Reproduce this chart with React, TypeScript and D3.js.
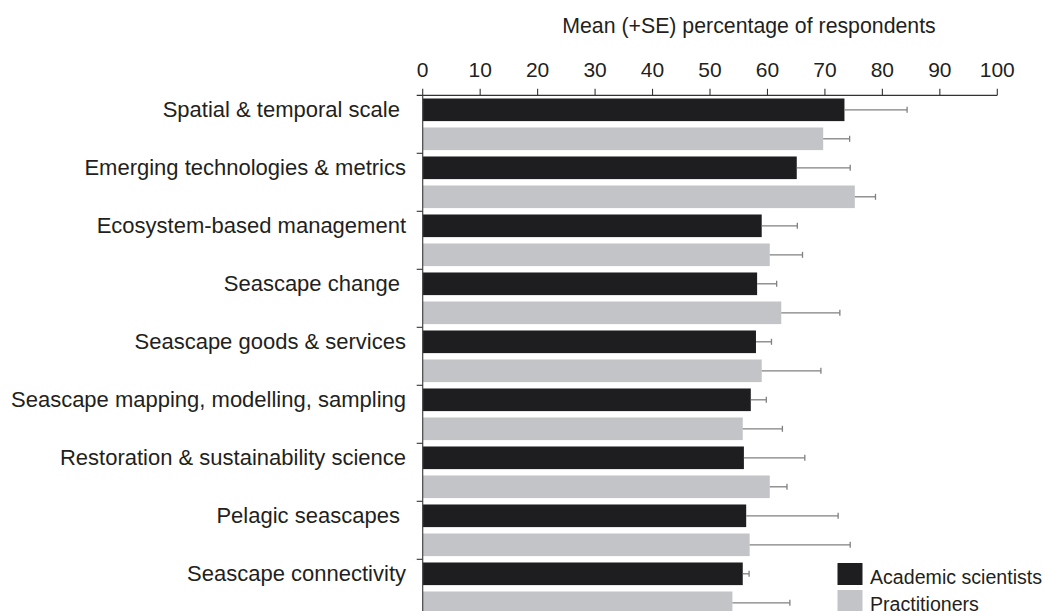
import React from "react";
import * as d3 from "d3";

// values
const categories = [
  "Spatial & temporal scale ",
  "Emerging technologies & metrics",
  "Ecosystem-based management",
  "Seascape change ",
  "Seascape goods & services",
  "Seascape mapping, modelling, sampling",
  "Restoration & sustainability science",
  "Pelagic seascapes ",
  "Seascape connectivity",
];
const academicMean = [73.4, 65.1, 59.0, 58.2, 58.0, 57.1, 55.9, 56.3, 55.7];
const academicSE = [10.9, 9.3, 6.2, 3.4, 2.7, 2.7, 10.6, 16.0, 1.1];
const practitionerMean = [69.7, 75.2, 60.4, 62.4, 59.0, 55.7, 60.4, 56.9, 53.9];
const practitionerSE = [4.6, 3.6, 5.7, 10.2, 10.3, 6.9, 3.0, 17.5, 10.0];
const seriesNames = ["Academic scientists", "Practitioners"];
const seriesColors = ["#1e1e21", "#c3c4c7"];
const xTicks = [0, 10, 20, 30, 40, 50, 60, 70, 80, 90, 100];

const W = 1045;
const H = 611;
const FONT = "'Liberation Sans', Arial, Helvetica, sans-serif";
const TXT = "#231f20";

export default function App() {
  if (typeof document !== "undefined") {
    document.body.style.margin = "0";
    document.body.style.overflow = "hidden";
  }

  const x = d3.scaleLinear().domain([0, 100]).range([422.7, 997.3]);
  const y0 = d3
    .scaleBand<string>()
    .domain(categories)
    .range([95.3, 95.3 + 58 * categories.length]);
  const y1 = d3
    .scaleBand<string>()
    .domain(seriesNames)
    .range([0, y0.bandwidth()])
    .paddingInner(0.22)
    .paddingOuter(0.11);

  const series = [
    { name: seriesNames[0], mean: academicMean, se: academicSE, color: seriesColors[0] },
    { name: seriesNames[1], mean: practitionerMean, se: practitionerSE, color: seriesColors[1] },
  ];

  const axisY = 95.3;
  const x0 = x(0);

  return (
    <svg width={W} height={H} style={{ display: "block", background: "#fff" }} fontFamily={FONT}>
      {/* title */}
      <text x={749} y={33} textAnchor="middle" fontSize={21.3} fill={TXT}>
        Mean (+SE) percentage of respondents
      </text>

      {/* top x axis */}
      <line x1={x0 - 6} x2={x(100)} y1={axisY} y2={axisY} stroke="#333" strokeWidth={1.2} />
      {xTicks.map((t) => (
        <g key={t}>
          <line x1={x(t)} x2={x(t)} y1={axisY} y2={axisY - 6.5} stroke="#333" strokeWidth={1.1} />
          <text x={x(t)} y={76.7} textAnchor="middle" fontSize={21} fill={TXT}>
            {t}
          </text>
        </g>
      ))}

      {/* bars */}
      {categories.map((c, i) => (
        <g key={c} transform={`translate(0,${y0(c)})`}>
          {series.map((s) => {
            const by = y1(s.name)!;
            const bh = y1.bandwidth();
            const cy = by + bh / 2;
            const xe = x(s.mean[i] + s.se[i]);
            return (
              <g key={s.name}>
                <rect x={x0} y={by} width={x(s.mean[i]) - x0} height={bh} fill={s.color} />
                <line x1={x(s.mean[i])} x2={xe} y1={cy} y2={cy} stroke="#808080" strokeWidth={1.3} />
                <line x1={xe} x2={xe} y1={cy - 3} y2={cy + 3} stroke="#808080" strokeWidth={1.3} />
              </g>
            );
          })}
          <text
            x={406}
            y={y1(seriesNames[0])! + y1.bandwidth() / 2}
            dy="0.35em"
            textAnchor="end"
            fontSize={22}
            fill={TXT}
            style={{ whiteSpace: "pre" }}
          >
            {c}
          </text>
        </g>
      ))}

      {/* y axis */}
      <line x1={x0} x2={x0} y1={axisY} y2={H} stroke="#444" strokeWidth={1.2} />
      {categories.slice(1).map((c) => (
        <line key={c} x1={x0 - 6} x2={x0} y1={y0(c)} y2={y0(c)} stroke="#333" strokeWidth={1.1} />
      ))}

      {/* legend */}
      {seriesNames.map((n, i) => (
        <g key={n} transform={`translate(837.5,${563 + i * 27})`}>
          <rect width={25} height={22} fill={seriesColors[i]} />
          <text x={32.5} y={21} fontSize={19.6} fill={TXT}>
            {n}
          </text>
        </g>
      ))}
    </svg>
  );
}
